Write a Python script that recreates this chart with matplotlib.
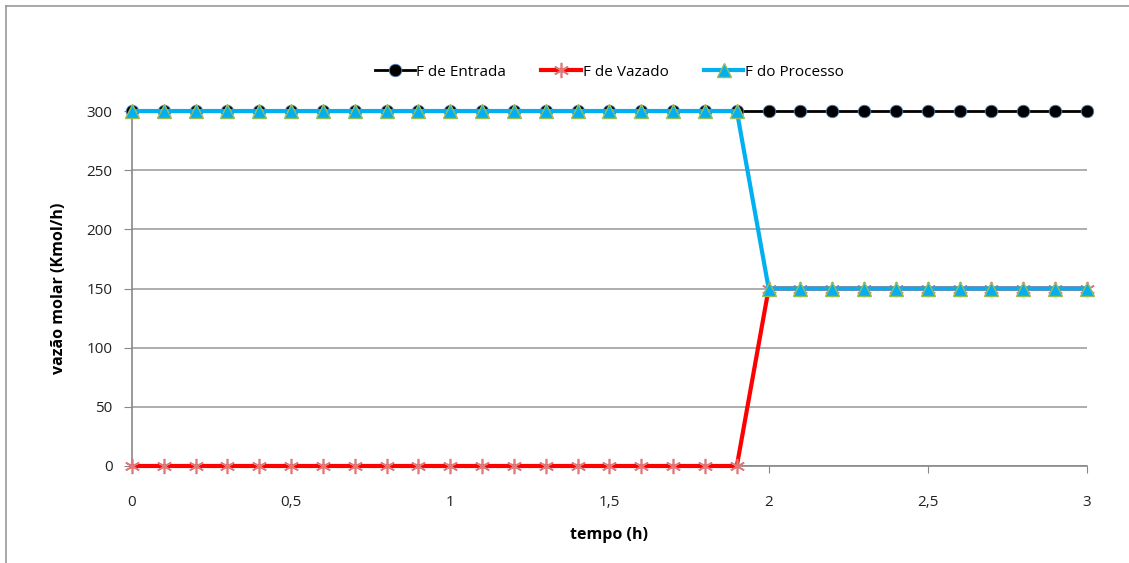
import matplotlib
matplotlib.use("Agg")
import matplotlib.pyplot as plt
from matplotlib.lines import Line2D
from matplotlib.ticker import MultipleLocator, FuncFormatter

# tempo (h) de 0 a 3 em passos de 0,1
tempo = [round(i * 0.1, 1) for i in range(31)]

f_entrada = [300] * 31
f_vazado = [0] * 20 + [150] * 11
f_processo = [300] * 20 + [150] * 11

plt.rcParams['font.family'] = ['Open Sans', 'DejaVu Sans']

fig = plt.figure(figsize=(11.29, 5.63), dpi=100)
ax = fig.add_axes([0.1169, 0.1723, 0.8459, 0.6305])

ax.plot(tempo, f_entrada, color='black', lw=2, marker='o', ms=9,
        mfc='black', mec='#4F81BD', mew=0.6, label='F de Entrada',
        zorder=3, clip_on=False)
ax.plot(tempo, f_vazado, color='#FF0000', lw=3, marker=(6, 2, 0), ms=11,
        mec='#E07A7A', mew=1.2, label='F de Vazado', zorder=4, clip_on=False)
ax.plot(tempo, f_processo, color='#00B0F0', lw=3, marker='^', ms=10,
        mfc='#00B0F0', mec='#9BBB59', mew=1, label='F do Processo',
        zorder=5, clip_on=False)

ax.set_xlim(0, 3)
ax.set_ylim(0, 300)
ax.xaxis.set_major_locator(MultipleLocator(0.5))
ax.yaxis.set_major_locator(MultipleLocator(50))
ax.xaxis.set_major_formatter(FuncFormatter(lambda v, p: f'{v:g}'.replace('.', ',')))

ax.grid(axis='y', color='#A0A0A0', lw=1.2)
ax.set_axisbelow(True)
for s in ['top', 'right']:
    ax.spines[s].set_visible(False)
for s in ['left', 'bottom']:
    ax.spines[s].set_color('#888888')
    ax.spines[s].set_linewidth(1.2)

ax.tick_params(axis='y', length=6, color='#888888', labelsize=11, pad=8,
               labelcolor='#222222')
ax.tick_params(axis='x', length=5, color='#888888', labelsize=11, pad=16,
               labelcolor='#222222')

ax.set_xlabel('tempo (h)', fontsize=11.5, fontweight='bold', labelpad=12)
ax.set_ylabel('vazão molar (Kmol/h)', fontsize=11.5, fontweight='bold', labelpad=14)

leg = ax.legend(loc='lower center', bbox_to_anchor=(0.5, 1.05), ncol=3,
                frameon=False, fontsize=11, handlelength=2.6,
                handletextpad=0.1, columnspacing=2.3)

# chart frame lines
fig.add_artist(Line2D([6 / 1129, 1], [1 - 6 / 563, 1 - 6 / 563],
                      color='#999999', lw=1.2, transform=fig.transFigure))
fig.add_artist(Line2D([6 / 1129, 6 / 1129], [0, 1 - 6 / 563],
                      color='#999999', lw=1.2, transform=fig.transFigure))

fig.savefig('out.png', dpi=100)
